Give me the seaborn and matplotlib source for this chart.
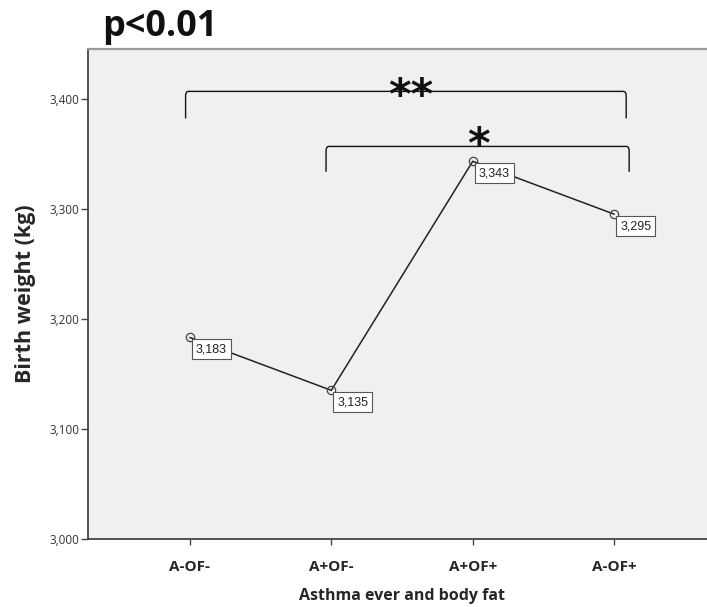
import matplotlib
matplotlib.use("Agg")
import matplotlib.pyplot as plt
from matplotlib.path import Path
from matplotlib.patches import PathPatch
from matplotlib.ticker import FixedLocator, FuncFormatter
import seaborn as sns
import pandas as pd

# Mean birth weight by asthma / body-fat group
groups = ["A-OF-", "A+OF-", "A+OF+", "A-OF+"]
birth_weight = [3183, 3135, 3343, 3295]
y_ticks = [3000, 3100, 3200, 3300, 3400]

df = pd.DataFrame({"group": groups, "weight": birth_weight})

sns.set_theme(style="white")
plt.rcParams["font.family"] = ["Open Sans", "DejaVu Sans"]

fig = plt.figure(figsize=(7.07, 6.07), dpi=100)
ax = fig.add_axes([88 / 707, 68 / 607, 628 / 707, 490 / 607])
ax.set_facecolor("#f0f0f0")

sns.lineplot(data=df, x="group", y="weight", sort=False, ax=ax,
             color="#222222", linewidth=1.1, marker="o", markersize=6,
             markerfacecolor="none", markeredgecolor="#444444",
             markeredgewidth=0.9)

ax.set_xlim(-0.72, 3.72)
ax.set_ylim(3000, 3445)
ax.yaxis.set_major_locator(FixedLocator(y_ticks))
ax.yaxis.set_major_formatter(FuncFormatter(lambda v, p: f"{int(v):,}"))

for name in ["left", "bottom"]:
    ax.spines[name].set_color("#444444")
    ax.spines[name].set_linewidth(1.3)
ax.spines["top"].set_color("#999999")
ax.spines["top"].set_linewidth(1.6)
ax.spines["right"].set_visible(False)

ax.tick_params(axis="y", which="major", direction="out", length=5, width=1,
               color="#444444", labelsize=8.5, labelcolor="#333333", pad=1, left=True)
ax.tick_params(axis="x", which="major", direction="out", length=4, width=1,
               color="#444444", labelsize=11, pad=11, bottom=True)
for lab in ax.get_xticklabels():
    lab.set_fontweight("bold")

ax.set_xlabel("Asthma ever and body fat", fontsize=11.5, fontweight="bold", labelpad=10)
ax.set_ylabel("Birth weight (kg)", fontsize=15.5, fontweight="bold", labelpad=10)

# Value labels beside each point
for i, v in enumerate(birth_weight):
    ax.annotate(f"{v:,}", xy=(i, v), xytext=(6, -6), textcoords="offset pixels",
                ha="left", va="top", fontsize=9, color="#222222",
                family=["Liberation Sans", "DejaVu Sans"],
                bbox=dict(boxstyle="square,pad=0.32", facecolor="white",
                          edgecolor="#555555", linewidth=0.8))


def bracket(ax, x0, x1, y_top, y_bot, r=0.02, ry=4):
    verts = [(x0, y_bot), (x0, y_top - ry), (x0, y_top), (x0 + r, y_top),
             (x1 - r, y_top), (x1, y_top), (x1, y_top - ry), (x1, y_bot)]
    codes = [Path.MOVETO, Path.LINETO, Path.CURVE3, Path.CURVE3,
             Path.LINETO, Path.CURVE3, Path.CURVE3, Path.LINETO]
    ax.add_patch(PathPatch(Path(verts, codes), facecolor="none",
                           edgecolor="#111111", linewidth=1.0))


bracket(ax, -0.03, 3.085, 3406.5, 3382)
bracket(ax, 0.963, 3.106, 3356.5, 3333.5)

ax.text(1.565, 3401, "**", ha="center", va="center", fontsize=31,
        fontweight="bold", family="DejaVu Sans", color="#111111")
ax.text(2.04, 3356.5, "*", ha="center", va="center", fontsize=31,
        fontweight="bold", family="DejaVu Sans", color="#111111")

fig.text(102 / 707, 1 - 27 / 607, "p<0.01", ha="left", va="center",
         fontsize=26, fontweight="bold", color="#111111")

fig.savefig("out.png", dpi=100)
